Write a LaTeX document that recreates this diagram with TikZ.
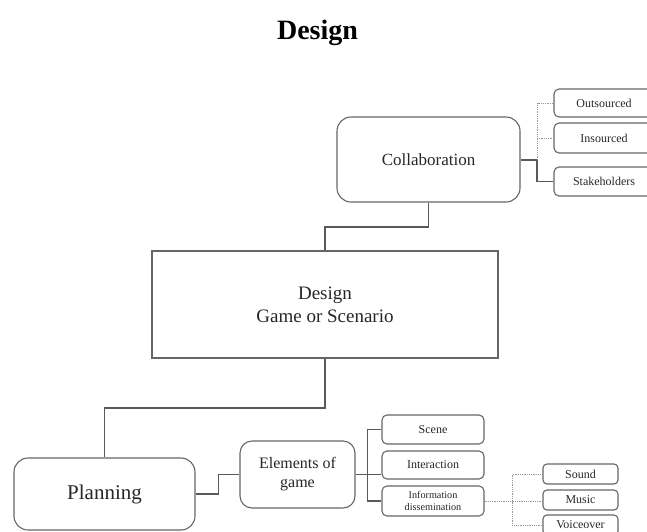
\documentclass[tikz,border=0pt]{standalone}
\usepackage{fontspec}
\setmainfont{Liberation Serif}
\begin{document}
\begin{tikzpicture}[x=1pt,y=-1pt,
  box/.style={draw=black!60,line width=1.1pt,rounded corners=9pt,inner sep=0pt,align=center,text=black!85},
  sq/.style={draw=black!60,line width=1.1pt,inner sep=0pt,align=center,text=black!85},
  conn/.style={draw=black!65,line width=1.2pt},
  dotc/.style={draw=black!40,line width=0.8pt,densely dotted},
  big/.style={font=\fontsize{17}{20}\selectfont},
  sm/.style={font=\fontsize{12}{14}\selectfont}]
\useasboundingbox (0,0) rectangle (647,531);
\node[font=\fontsize{28}{32}\selectfont\bfseries,anchor=base] (title) at (317.5,39) {Design};
\node[box,rounded corners=14pt,big,minimum width=183pt,minimum height=85pt] (collab) at (428.5,159.5) {Collaboration};
\node[box,rounded corners=5pt,sm,minimum width=100pt,minimum height=28pt] (outs) at (604,103) {\hspace*{-0pt}Outsourced};
\node[box,rounded corners=5pt,sm,minimum width=100pt,minimum height=30pt] (ins) at (604,138) {Insourced};
\node[box,rounded corners=5pt,sm,minimum width=100pt,minimum height=29pt] (stake) at (604,181.5) {Stakeholders};
\node[sq,font=\fontsize{19}{23}\selectfont,minimum width=346pt,minimum height=107pt] (design) at (325,304.5) {Design\\Game or Scenario};
\node[box,rounded corners=14pt,font=\fontsize{21}{24}\selectfont,minimum width=181pt,minimum height=72pt] (plan) at (104.5,494) {Planning};
\node[box,rounded corners=12pt,font=\fontsize{16}{19}\selectfont,minimum width=115pt,minimum height=67pt] (elem) at (297.5,474.5) {Elements of\\game};
\node[box,rounded corners=5pt,sm,minimum width=102pt,minimum height=29pt] (scene) at (433,429.5) {Scene};
\node[box,rounded corners=5pt,sm,minimum width=102pt,minimum height=28pt] (inter) at (433,465) {Interaction};
\node[box,rounded corners=5pt,font=\fontsize{10.2}{11.5}\selectfont,minimum width=102pt,minimum height=30pt] (info) at (433,501) {Information\\dissemination};
\node[box,rounded corners=4pt,sm,minimum width=75pt,minimum height=20pt] (sound) at (580.5,474) {Sound};
\node[box,rounded corners=4pt,sm,minimum width=75pt,minimum height=20pt] (music) at (580.5,500) {Music};
\node[box,rounded corners=4pt,sm,minimum width=75pt,minimum height=20pt] (voice) at (580.5,525) {Voiceover};
% collaboration connectors
\draw[conn] (collab.south) -- ++(0,24.5) -| (design.north);
\coordinate (ct) at (537,160);
\draw[conn] (collab.east |- ct) -- (ct) |- (stake.west);
\draw[dotc] (ct) |- (outs.west);
\draw[dotc] (ct |- ins.west) -- (ins.west);
% design to planning
\draw[conn] (design.south) -- ++(0,49.5) -| (plan.north);
\draw[conn] (plan.east) -- ++(23,0) |- (elem.west);
% elements
\draw[conn] (elem.east) -- (inter.west |- elem.east);
\draw[conn] (scene.west) -- ++(-14,0) |- (info.west);
% info
\draw[dotc] (info.east) -- (music.west |- info.east);
\draw[dotc] (sound.west) -- ++(-30,0) |- (voice.west);
\end{tikzpicture}
\end{document}
